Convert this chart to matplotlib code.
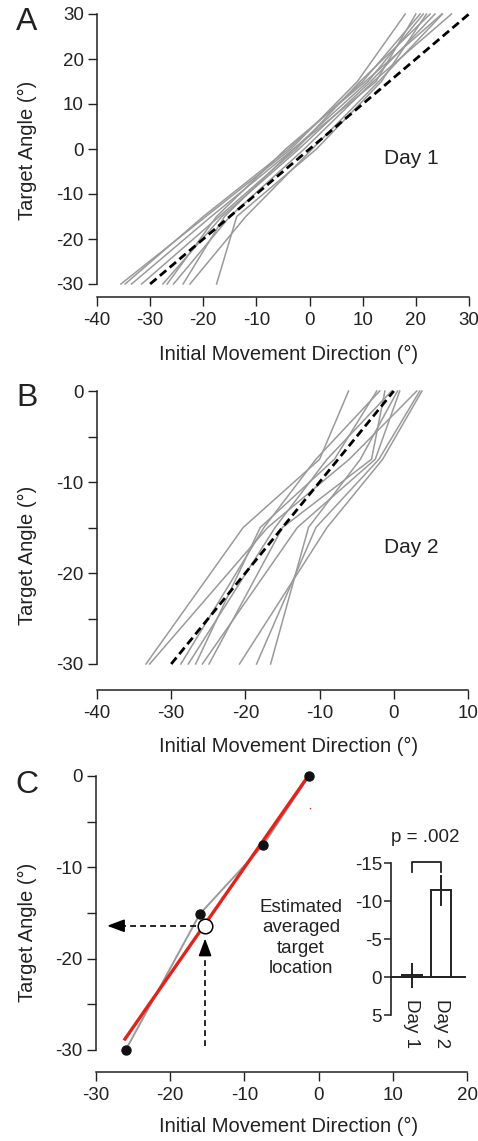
import matplotlib
matplotlib.use('Agg')
import matplotlib.pyplot as plt

plt.rcParams['font.family'] = ['Liberation Sans', 'DejaVu Sans']
plt.rcParams['axes.unicode_minus'] = False
plt.rcParams['text.color'] = '#222222'
plt.rcParams['axes.edgecolor'] = '#222222'
plt.rcParams['xtick.color'] = '#222222'
plt.rcParams['ytick.color'] = '#222222'

# ---------------- data ----------------
# Panel A (Day 1): target angles and each subject's initial movement direction
targets_a = [-30, -15, 0, 15, 30]
subjects_a = [
    [-35.5, -19.5, -3.5, 9.0, 18.0],
    [-34.7, -20.0, -4.0, 10.0, 20.8],
    [-33.5, -18.5, -3.0, 11.0, 21.4],
    [-31.6, -17.0, -2.5, 9.5, 22.7],
    [-27.6, -16.5, -2.0, 11.5, 23.6],
    [-26.8, -17.5, -4.5, 10.5, 24.9],
    [-25.6, -15.0, -1.0, 12.0, 26.7],
    [-23.8, -16.0, -3.0, 12.5, 20.0],
    [-22.5, -12.0, 0.5, 13.0, 25.0],
    [-17.5, -13.7, 1.3, 13.5, 22.0],
]
mean_a_x = [-30, 30]
mean_a_y = [-30, 30]

# Panel B (Day 2)
targets_b = [-30, -15, -7.5, 0]
subjects_b = [
    [-33.4, -20.3, -10.0, -6.1],
    [-32.9, -17.0, -6.0, 3.1],
    [-28.7, -17.5, -10.5, -1.9],
    [-27.7, -16.0, -9.0, -0.3],
    [-26.7, -18.0, -8.0, -2.3],
    [-25.8, -13.0, -2.5, 0.8],
    [-24.9, -15.0, -3.0, -1.2],
    [-20.8, -9.0, -1.5, 3.8],
    [-18.5, -10.5, -2.0, 3.5],
    [-16.6, -11.5, -4.5, 0.5],
]
mean_b_x = [-30, 0]
mean_b_y = [-30, 0]

# Panel C (example subject)
example_x = [-26.0, -16.0, -7.5, -1.3]
example_y = [-30.0, -15.1, -7.6, 0.0]
fit_x = [-26.1, -1.4]
fit_y = [-28.8, 0.0]
estimate_x = -15.3
estimate_y = -16.4
stray_dot = (-1.2, -3.5)

# Inset bar chart
bar_labels = ['Day 1', 'Day 2']
bar_means = [-0.2, -11.4]
bar_errs = [1.7, 2.0]
p_text = 'p = .002'

# ---------------- figure ----------------
W, H, DPI = 478, 1141, 100
fig = plt.figure(figsize=(W / DPI, H / DPI), dpi=DPI)
fig.patch.set_facecolor('white')

def px_axes(x0, x1, ytop, ybot):
    return fig.add_axes([x0 / W, 1 - ybot / H, (x1 - x0) / W, (ybot - ytop) / H])

def px2pt(p):
    return p * 72.0 / DPI

GRAY = '#9a9a9a'
TICK_FS = 13.5
LAB_FS = 14.5

def style(ax, bottom_offset_px):
    for s in ['top', 'right']:
        ax.spines[s].set_visible(False)
    ax.spines['left'].set_linewidth(1.1)
    ax.spines['bottom'].set_linewidth(1.1)
    ax.spines['bottom'].set_position(('outward', px2pt(bottom_offset_px)))
    ax.tick_params(direction='out', length=6.5, width=1.0, labelsize=TICK_FS)
    ax.tick_params(axis='x', pad=4.5)
    ax.tick_params(axis='y', pad=3.0)
    ax.patch.set_alpha(0)

def fig_text(x, y, s, **kw):
    fig.text(x / W, 1 - y / H, s, **kw)

# ---- Panel A ----
axA = px_axes(97, 469, 14, 284)
for xs in subjects_a:
    axA.plot(xs, targets_a, color=GRAY, lw=1.1, clip_on=False)
axA.plot(mean_a_x, mean_a_y, color='black', lw=2.0, ls=(0, (3, 1.6)), clip_on=False)
axA.set_xlim(-40, 30)
axA.set_ylim(-30, 30)
axA.set_xticks(range(-40, 31, 10))
axA.set_yticks(range(-30, 31, 10))
style(axA, 13)
fig_text(411, 158, 'Day 1', fontsize=15, ha='center', va='center')

# ---- Panel B ----
axB = px_axes(97, 468, 391, 664)
for xs in subjects_b:
    axB.plot(xs, targets_b, color=GRAY, lw=1.1, clip_on=False)
axB.plot(mean_b_x, mean_b_y, color='black', lw=2.0, ls=(0, (3, 1.6)), clip_on=False)
axB.set_xlim(-40, 10)
axB.set_ylim(-30, 0)
axB.set_xticks(range(-40, 11, 10))
axB.set_yticks(range(-30, 1, 5))
axB.set_yticklabels([str(v) if v % 10 == 0 else '' for v in range(-30, 1, 5)])
style(axB, 26)
fig_text(411, 547, 'Day 2', fontsize=15, ha='center', va='center')

# ---- Panel C ----
axC = px_axes(96, 467, 776, 1050)
axC.plot(example_x, example_y, color=GRAY, lw=1.4, clip_on=False, zorder=2)
axC.plot(fit_x, fit_y, color='#e3231b', lw=2.4, clip_on=False, zorder=3)
axC.plot(example_x, example_y, 'o', color='#111111', ms=6.5, clip_on=False, zorder=4)
axC.plot([stray_dot[0]], [stray_dot[1]], 's', color='#e3231b', ms=1.0, mew=0, zorder=4)
# dashed guide lines with arrowheads
axC.plot([estimate_x - 1.2, -27.4], [estimate_y, estimate_y], color='black', lw=1.2,
         ls=(0, (3.5, 2.5)), zorder=3)
axC.plot([estimate_x, estimate_x], [-29.6, -18.8], color='black', lw=1.2,
         ls=(0, (3.5, 2.5)), zorder=3)
arrow_kw = dict(arrowstyle='-|>,head_length=0.75,head_width=0.28', color='black',
                lw=1.2, shrinkA=0, shrinkB=0, mutation_scale=14)
axC.annotate('', xy=(-28.5, estimate_y), xytext=(-26.8, estimate_y), arrowprops=arrow_kw)
axC.annotate('', xy=(estimate_x, -17.8), xytext=(estimate_x, -19.6), arrowprops=arrow_kw)
axC.plot([estimate_x], [estimate_y], 'o', mfc='white', mec='black', mew=1.1, ms=10.5, zorder=5)
axC.set_xlim(-30, 20)
axC.set_ylim(-30, 0)
axC.set_xticks(range(-30, 21, 10))
axC.set_yticks(range(-30, 1, 5))
axC.set_yticklabels([str(v) if v % 10 == 0 else '' for v in range(-30, 1, 5)])
style(axC, 22)
fig_text(301, 938, 'Estimated\naveraged\ntarget\nlocation', fontsize=13.5, ha='center',
         va='center', linespacing=1.28)

# ---- Inset bar chart ----
axI = px_axes(391, 465, 863, 1015)
bar_pos = [1, 2]
axI.bar(bar_pos, bar_means, width=0.7, facecolor='white', edgecolor='#222222', lw=1.4, zorder=2)
axI.errorbar(bar_pos, bar_means, yerr=bar_errs, fmt='none', ecolor='#222222', elinewidth=1.4,
             capsize=0, zorder=3)
axI.set_xlim(0.29, 2.81)
axI.set_ylim(5, -15)
axI.set_yticks([-15, -10, -5, 0, 5])
axI.set_xticks(bar_pos)
axI.set_xticklabels(bar_labels)
for s in ['top', 'right']:
    axI.spines[s].set_visible(False)
axI.spines['bottom'].set_position(('data', 0))
axI.spines['left'].set_linewidth(1.2)
axI.spines['bottom'].set_linewidth(1.4)
axI.tick_params(axis='y', direction='out', length=5, width=1.1, labelsize=13.5, pad=1.5)
axI.tick_params(axis='x', length=0, pad=16, labelsize=13.5, labelrotation=270)
for lab in axI.get_xticklabels():
    lab.set_va('top')
    lab.set_ha('center')
axI.patch.set_alpha(0)
# significance bracket
axI.plot([bar_pos[0], bar_pos[0], bar_pos[1], bar_pos[1]], [-13.8, -15.1, -15.1, -13.8],
         color='#222222', lw=1.3, clip_on=False)
axI.text((bar_pos[0] + bar_pos[1]) / 2 - 0.05, -18.3, p_text, fontsize=13.5, ha='center',
         va='center', clip_on=False)

# ---- axis labels and panel letters ----
xlabel = 'Initial Movement Direction (°)'
ylabel = 'Target Angle (°)'
fig_text(289, 354, xlabel, fontsize=LAB_FS, ha='center', va='center')
fig_text(289, 746, xlabel, fontsize=LAB_FS, ha='center', va='center')
fig_text(289, 1126, xlabel, fontsize=LAB_FS, ha='center', va='center')
fig_text(27, 150, ylabel, fontsize=LAB_FS, ha='center', va='center', rotation=90)
fig_text(27, 555, ylabel, fontsize=LAB_FS, ha='center', va='center', rotation=90)
fig_text(27, 932, ylabel, fontsize=LAB_FS, ha='center', va='center', rotation=90)
fig_text(27, 22, 'A', fontsize=23, ha='center', va='center')
fig_text(27, 398, 'B', fontsize=23, ha='center', va='center')
fig_text(27, 785, 'C', fontsize=23, ha='center', va='center')

fig.savefig('out.png', dpi=DPI, facecolor='white')
